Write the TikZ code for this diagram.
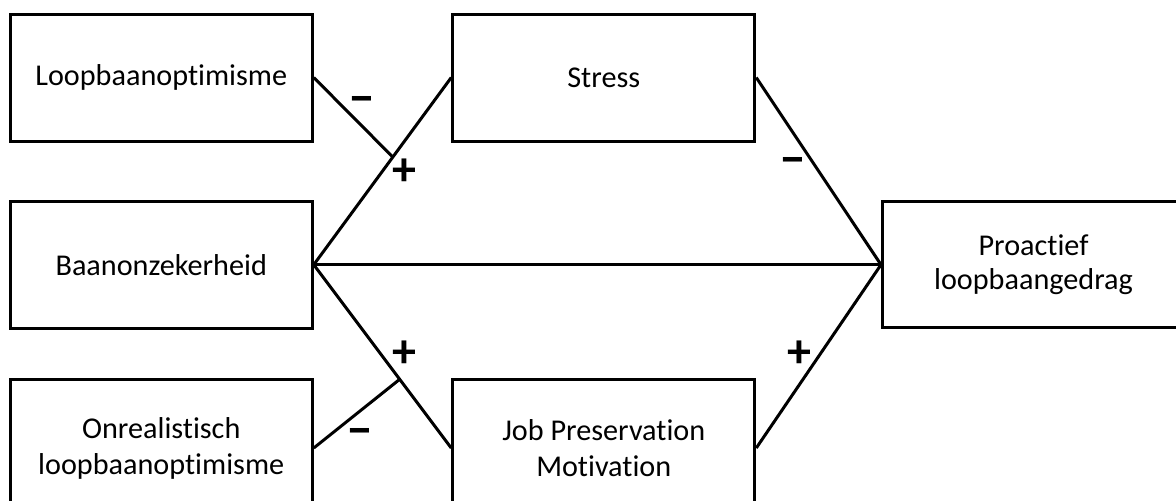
\documentclass[tikz,border=0pt]{standalone}
\usepackage{fontspec}
\setmainfont{Carlito}[Ligatures={NoCommon,NoContextual}]
\usetikzlibrary{calc}
\begin{document}
\begin{tikzpicture}[x=0.5pt,y=-0.5pt,
  box/.style={draw, line width=1.5pt, minimum width=151pt, minimum height=63.5pt,
    align=center, inner sep=0pt, font=\fontsize{15.1}{18}\selectfont},
  link/.style={line width=1.5pt},
  sign/.style={font=\fontsize{20}{22}\selectfont\bfseries, inner sep=0pt}]
\useasboundingbox (0,0) rectangle (1176,500);
\clip (0,0) rectangle (1176,500);
\node[box] (lo) at (161.25,77.5) {\raisebox{-2pt}{Loopbaanoptimisme}};
\node[box] (bz) at (161.25,264.7) {Baanonzekerheid};
\node[box, minimum height=69pt] (on) at (161.25,448) {Onrealistisch\\loopbaanoptimisme};
\node[box] (st) at (603.75,77.5) {\raisebox{-2pt}{Stress}};
\node[box, minimum height=69pt] (jp) at (603.75,448) {Job Preservation\\Motivation};
\node[box, minimum height=63pt, font=\fontsize{15.1}{17}\selectfont] (pr) at (1033.5,264.7) {Proactief\\loopbaangedrag};
\draw[link] (bz.east) -- (st.west);
\draw[link] (bz.east) -- (jp.west);
\draw[link] (bz.east) -- (pr.west);
\draw[link] (st.east) -- (pr.west);
\draw[link] (jp.east) -- (pr.west);
\coordinate (j1) at ($(bz.east)!0.575!(st.west)$);
\coordinate (j2) at ($(bz.east)!0.625!(jp.west)$);
\draw[link] (lo.east) -- (j1);
\draw[link] (on.east) -- (j2);
\node[sign] (m1) at (361.7,105) {\scalebox{1.35}[1.3]{–}};
\node[sign] (p1) at (404,172) {\scalebox{1.2}{+}};
\node[sign] (p2) at (404,354) {\scalebox{1.2}{+}};
\node[sign] (m2) at (360,437) {\scalebox{1.35}[1.3]{–}};
\node[sign] (m3) at (793,166) {\scalebox{1.35}[1.3]{–}};
\node[sign] (p3) at (799,354) {\scalebox{1.2}{+}};
\end{tikzpicture}
\end{document}
